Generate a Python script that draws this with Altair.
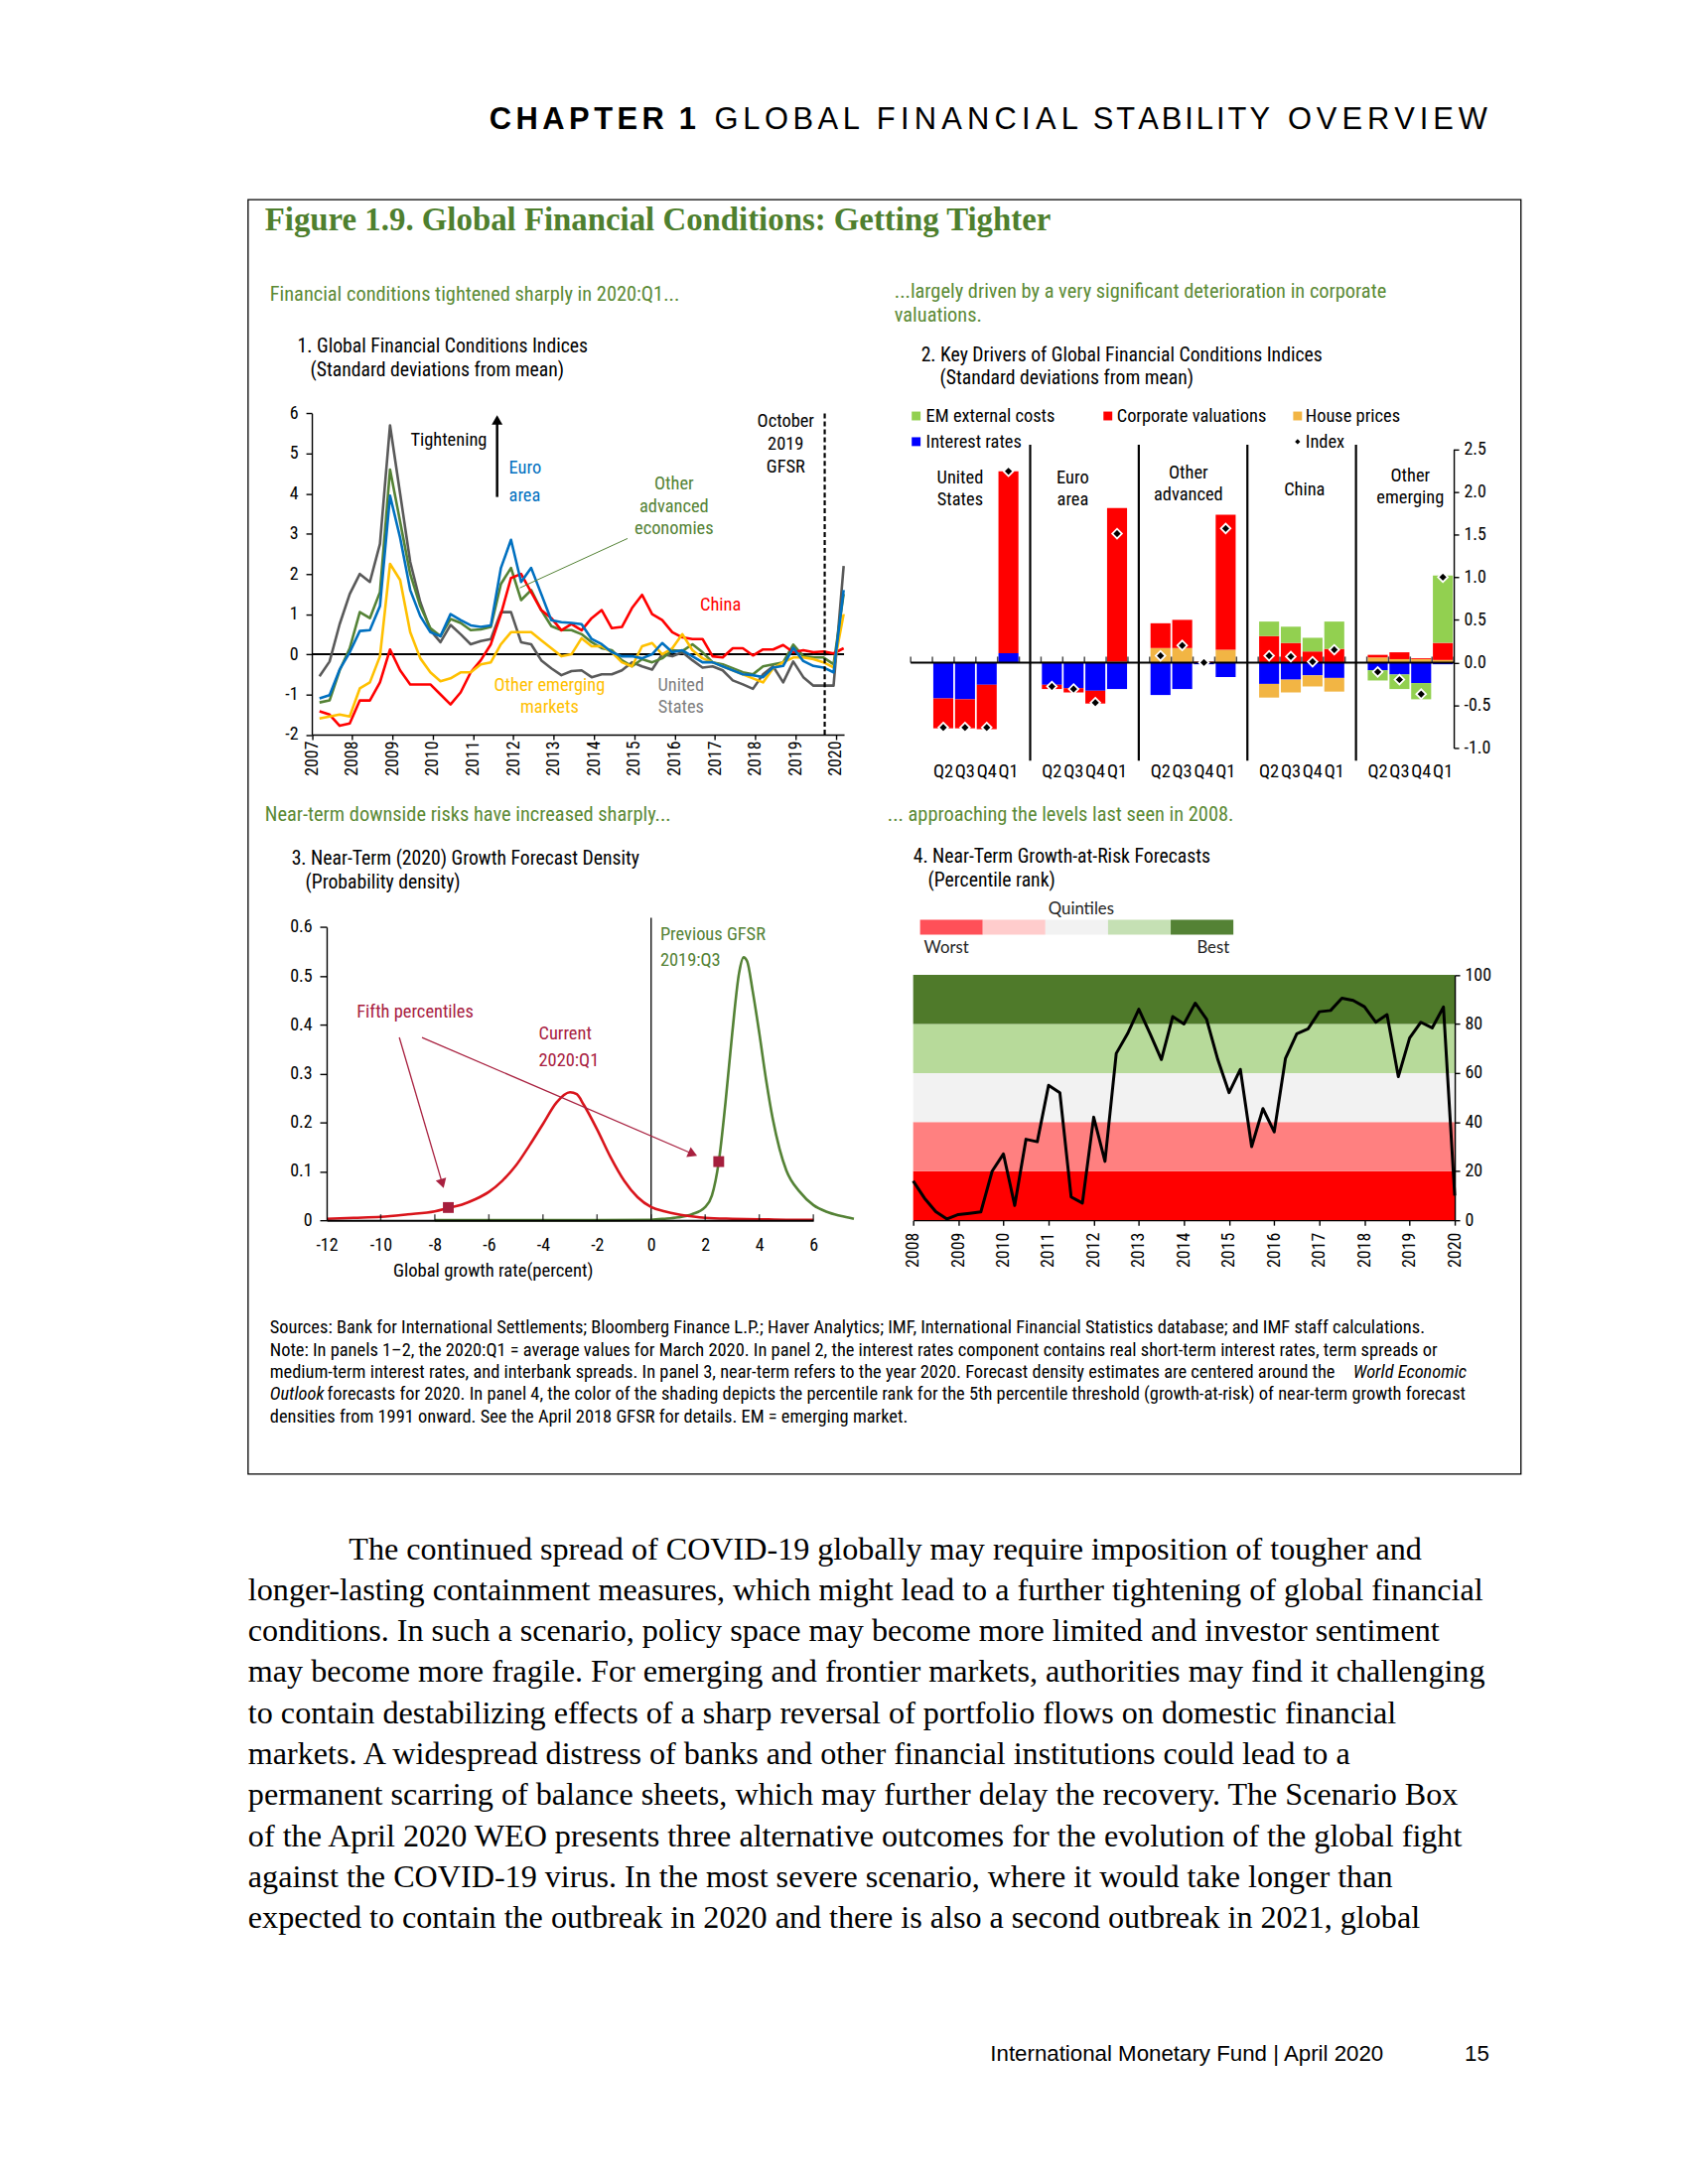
import altair as alt
import pandas as pd

# ======================= DATA =======================
# Panel 1: Global Financial Conditions Indices, quarterly 2007:Q1 - 2020:Q1
p1_start_year = 2007
p1_us = [-0.55, -0.18, 0.75, 1.5, 2.0, 1.8, 2.75, 5.7,
         4.0, 2.3, 1.3, 0.6,
         0.3, 0.73, 0.5, 0.25,
         0.33, 0.38, 1.05, 1.05,
         0.3, 0.25, -0.15, -0.35,
         -0.52, -0.42, -0.4, -0.57,
         -0.5, -0.5, -0.4, -0.2,
         -0.3, -0.38, 0.0, -0.05,
         0.05, -0.15, -0.33, -0.3,
         -0.4, -0.65, -0.75, -0.86,
         -0.5, -0.3, -0.7, -0.18,
         -0.57, -0.78, -0.78, -0.78,
         2.2]
p1_euro = [-1.1, -1.02, -0.38, 0.05, 0.58, 0.6, 1.2, 3.95,
           2.9, 1.6, 0.95, 0.55,
           0.45, 1.0, 0.85, 0.72,
           0.68, 0.72, 2.15, 2.85,
           1.8, 2.15, 1.5, 0.85,
           0.8, 0.78, 0.75, 0.38,
           0.25, 0.05, -0.05, -0.05,
           -0.1, 0.0, 0.28, 0.05,
           0.1, -0.05, -0.2, -0.2,
           -0.3, -0.4, -0.5, -0.52,
           -0.57, -0.33, -0.29, 0.16,
           -0.17, -0.29, -0.33, -0.45,
           1.6]
p1_other_adv = [-1.2, -1.15, -0.4, 0.15, 1.05, 0.9, 1.55, 4.6,
                3.3, 2.0, 1.2, 0.65,
                0.45, 0.88, 0.78, 0.6,
                0.62, 0.68, 1.75, 2.15,
                1.35, 1.6, 1.1, 0.7,
                0.6, 0.6, 0.5, 0.3,
                0.15, 0.1, -0.15, -0.3,
                -0.12, -0.2, -0.1, 0.1,
                0.08, 0.25, 0.05, -0.2,
                -0.25, -0.35, -0.45, -0.5,
                -0.3, -0.25, -0.2, 0.24,
                -0.05, -0.08, -0.08, -0.25,
                1.5]
p1_china = [-1.42, -1.5, -1.78, -1.72, -1.15, -1.15, -0.7, 0.12,
            -0.4, -0.75, -0.75, -0.75,
            -1.0, -1.25, -0.95, -0.45,
            -0.15, 0.25, 1.0, 1.9,
            2.0, 1.55, 1.1, 0.9,
            0.6, 0.75, 0.6, 0.9,
            1.1, 0.65, 0.68, 1.15,
            1.48, 1.0, 0.85, 0.55,
            0.42, 0.38, 0.38, -0.05,
            -0.08, 0.15, 0.15, -0.03,
            0.12, 0.12, 0.23, 0.05,
            0.1, 0.05, 0.07, 0.02,
            0.15]
p1_other_em = [-1.6, -1.55, -1.5, -1.55, -0.85, -0.7, -0.05, 2.25,
               1.85, 0.55, -0.1, -0.45,
               -0.67, -0.6, -0.45, -0.45,
               -0.25, -0.2, 0.25, 0.55,
               0.55, 0.55, 0.35, 0.15,
               -0.05, 0.0, 0.4, 0.2,
               0.2, 0.05, -0.2, -0.3,
               0.2, 0.28, 0.0, 0.15,
               0.5, 0.1, -0.1, -0.2,
               -0.3, -0.4, -0.5, -0.6,
               -0.7, -0.35, -0.2, -0.08,
               -0.08, -0.12, -0.2, -0.33,
               1.0]
p1_x_domain = [2007, 2020.2]
p1_y_domain = [-2, 6]
p1_year_ticks = list(range(2007, 2021))
p1_y_ticks = list(range(-2, 7))
p1_gfsr_oct2019 = 2019.72

# Panel 2: key drivers (2019:Q2, Q3, Q4, 2020:Q1 for each region)
p2_regions = ["United States", "Euro area", "Other advanced", "China", "Other emerging"]
p2_quarters = ["Q2", "Q3", "Q4", "Q1"]
p2_components = ["Interest rates", "House prices", "Corporate valuations", "EM external costs"]
p2_interest = [-0.42, -0.43, -0.26, 0.11, -0.26, -0.30, -0.33, -0.31, -0.38, -0.31, -0.02, -0.17,
               -0.25, -0.20, -0.15, -0.18, -0.09, -0.14, -0.24, -0.02]
p2_house = [0.00, 0.00, 0.00, 0.00, 0.01, 0.01, 0.01, 0.01, 0.17, 0.17, 0.00, 0.15,
            -0.16, -0.15, -0.13, -0.16, 0.06, 0.04, 0.04, 0.03]
p2_corp = [-0.35, -0.34, -0.52, 2.13, -0.05, -0.05, -0.15, 1.80, 0.29, 0.33, 0.01, 1.58,
           0.31, 0.23, 0.13, 0.16, 0.03, 0.08, 0.01, 0.20]
p2_em = [0, 0, 0, 0, 0, 0, 0, 0, 0, 0, 0, 0,
         0.17, 0.19, 0.16, 0.32, -0.12, -0.17, -0.19, 0.79]
p2_index = [-0.76, -0.76, -0.76, 2.24, -0.28, -0.31, -0.47, 1.51, 0.08, 0.20, 0.00, 1.57,
            0.08, 0.07, 0.01, 0.15, -0.11, -0.20, -0.37, 1.00]
p2_y_domain = [-1, 2.5]
p2_y_ticks = [-1.0, -0.5, 0.0, 0.5, 1.0, 1.5, 2.0, 2.5]

# Panel 3: growth forecast densities
p3_cur_x = [-12, -11, -10, -9, -8, -7.5, -7, -6.5, -6, -5.5, -5, -4.5, -4, -3.5, -3, -2.75, -2.5,
            -2, -1.5, -1, -0.5, 0, 0.5, 1, 1.5, 2, 3, 4, 5, 6]
p3_cur_y = [0.003, 0.005, 0.007, 0.012, 0.018, 0.025, 0.032, 0.043, 0.058, 0.081, 0.112, 0.153,
            0.197, 0.241, 0.262, 0.258, 0.237, 0.186, 0.129, 0.081, 0.047, 0.027, 0.018, 0.012,
            0.008, 0.005, 0.003, 0.002, 0.001, 0.001]
p3_prev_x = [-8, -6, -4, -2, 0, 0.5, 1, 1.5, 2, 2.25, 2.5, 2.75, 3, 3.25, 3.42, 3.55, 3.75, 4,
             4.25, 4.5, 4.75, 5, 5.5, 6, 6.5, 7, 7.5]
p3_prev_y = [0, 0, 0, 0, 0.001, 0.003, 0.006, 0.012, 0.027, 0.051, 0.119, 0.241, 0.383, 0.505,
             0.538, 0.530, 0.471, 0.383, 0.288, 0.207, 0.146, 0.102, 0.058, 0.031, 0.017, 0.009,
             0.003]
p3_p5_x = [-7.5, 2.5]
p3_p5_y = [0.026, 0.12]
p3_x_domain = [-12, 6]
p3_y_domain = [0, 0.6]
p3_x_ticks = list(range(-12, 7, 2))
p3_y_ticks = [0, 0.1, 0.2, 0.3, 0.4, 0.5, 0.6]

# Panel 4: growth-at-risk percentile rank, quarterly 2008:Q1 - 2020:Q1
p4_start_year = 2008
p4_rank = [16, 9, 3.5, 0.5, 2.3, 2.8, 3.4, 20, 27, 6, 33, 32, 55, 52, 9.5, 7, 42, 24, 68, 76,
           86, 76, 65.5, 83, 80, 88.5, 82, 65.5, 52, 61.5, 30, 45.5, 36, 66, 76, 78, 85, 85.5,
           90.5, 89.6, 87, 80.7, 83.8, 58.5, 74.3, 80.7, 78.4, 86.9, 10]
p4_quintile_lo = [0, 20, 40, 60, 80]
p4_quintile_hi = [20, 40, 60, 80, 100]
p4_quintile_names = ["1st", "2nd", "3rd", "4th", "5th"]
p4_x_domain = [2008, 2020]
p4_year_ticks = list(range(2008, 2021))
p4_y_ticks = [0, 20, 40, 60, 80, 100]

# ======================= STYLE / LAYOUT =======================
W, H = 1692, 2092
OX, OY = 8, 8
NARROW = "Liberation Sans Narrow, Arial Narrow, Roboto Condensed, DejaVu Sans Condensed, Liberation Sans, sans-serif"
SANS = "Liberation Sans, Arial, Helvetica, sans-serif"
SERIF = "Liberation Serif, Times New Roman, serif"
CAL = "Lato, Open Sans, sans-serif"
GREEN_TXT = "#5B8A35"
C_US, C_EA, C_OA, C_CN, C_EM = "#595959", "#0070C0", "#548235", "#FF0000", "#FFC000"
P2_COLORS = ["#0000FF", "#F2B544", "#FF0000", "#92D050"]
CRIMSON = "#A8203F"
BAND_COLORS = ["#FF0000", "#FF8080", "#F2F2F2", "#B7DA9A", "#4F7A2A"]
QLEG_COLORS = ["#FF5058", "#FFCCCC", "#F2F2F2", "#C5E0B4", "#548235"]
FS_SUB, FS_TTL, FS_ANN, FS_AX = 20.5, 19.8, 18.5, 18


def vx(x):
    return x - OX


def vy(y):
    return y - OY


ONE = pd.DataFrame({"_": [0]})


def T(s, x, y, size=16, color="black", font=NARROW, align="left", weight="normal",
      style="normal", baseline="middle"):
    return alt.Chart(ONE).mark_text(text=s, fontSize=size, color=color, font=font, align=align,
                                    fontWeight=weight, fontStyle=style, baseline=baseline).encode(
        x=alt.value(vx(x)), y=alt.value(vy(y)))


def R(x1, y1, x2, y2, color="black", width=1.0):
    return alt.Chart(ONE).mark_rule(color=color, strokeWidth=width).encode(
        x=alt.value(vx(x1)), y=alt.value(vy(y1)), x2=alt.value(vx(x2)), y2=alt.value(vy(y2)))


def HEAD(x, y, angle, color, size=130):
    return alt.Chart(ONE).mark_point(shape="triangle-up", filled=True, color=color, size=size,
                                     angle=angle, opacity=1).encode(
        x=alt.value(vx(x)), y=alt.value(vy(y)))


def hyphen_expr(fmt):
    return "replace(format(datum.value, '" + fmt + "'), '\u2212', '-')"


layers = []

# ---------------- page header (letter-spaced), frame, texts ----------------
CAPW = {"A": .667, "B": .667, "C": .722, "E": .667, "F": .611, "G": .778, "H": .722, "I": .278,
        "L": .556, "N": .722, "O": .778, "P": .667, "R": .722, "S": .667, "T": .611, "V": .667,
        "W": .944, "Y": .667, "1": .556}
CAPW_BOLD = dict(CAPW, A=.722)
HDR_FS = 31
for word, x0, x1, bold in [("CHAPTER", 495, 672, True), ("1", 687, 705, True), ("GLOBAL", 723, 870, False),
                           ("FINANCIAL", 887, 1091, False), ("STABILITY", 1106, 1285, False),
                           ("OVERVIEW", 1303, 1505, False)]:
    wt = CAPW_BOLD if bold else CAPW
    natural = sum(wt[c] for c in word) * HDR_FS
    sp = (x1 - x0 - natural) / (len(word) - 1) if len(word) > 1 else 0
    cx = x0
    for c in word:
        layers.append(T(c, cx, 117, size=HDR_FS, font=SANS, weight="bold" if bold else "normal"))
        cx += wt[c] * HDR_FS + sp

layers.append(alt.Chart(ONE).mark_rect(filled=False, color="black", strokeWidth=1.3).encode(
    x=alt.value(vx(251)), y=alt.value(vy(197)), x2=alt.value(vx(1539)), y2=alt.value(vy(1487))))
layers.append(T("Figure 1.9. Global Financial Conditions: Getting Tighter", 268, 218, size=33,
                color="#4E7F2E", font=SERIF, weight="bold"))

FS_NOTE = 18.5
notes = [
    (273, 1338, "Sources: Bank for International Settlements; Bloomberg Finance L.P.; Haver Analytics; IMF, International Financial Statistics database; and IMF staff calculations.", "normal", "left"),
    (273, 1361, "Note: In panels 1\u20132, the 2020:Q1 = average values for March 2020. In panel 2, the interest rates component contains real short-term interest rates, term spreads or", "normal", "left"),
    (273, 1384, "medium-term interest rates, and interbank spreads. In panel 3, near-term refers to the year 2020. Forecast density estimates are centered around the", "normal", "left"),
    (1484, 1384, "World Economic", "italic", "right"),
    (273, 1406, "Outlook", "italic", "left"),
    (331, 1406, "forecasts for 2020. In panel 4, the color of the shading depicts the percentile rank for the 5th percentile threshold (growth-at-risk) of near-term growth forecast", "normal", "left"),
    (273, 1429, "densities from 1991 onward. See the April 2018 GFSR for details. EM = emerging market.", "normal", "left"),
]
for x, y, s, st, al in notes:
    layers.append(T(s, x, y, size=FS_NOTE, style=st, align=al))

body = [
    "The continued spread of COVID-19 globally may require imposition of tougher and",
    "longer-lasting containment measures, which might lead to a further tightening of global financial",
    "conditions. In such a scenario, policy space may become more limited and investor sentiment",
    "may become more fragile. For emerging and frontier markets, authorities may find it challenging",
    "to contain destabilizing effects of a sharp reversal of portfolio flows on domestic financial",
    "markets. A widespread distress of banks and other financial institutions could lead to a",
    "permanent scarring of balance sheets, which may further delay the recovery. The Scenario Box",
    "of the April 2020 WEO presents three alternative outcomes for the evolution of the global fight",
    "against the COVID-19 virus. In the most severe scenario, where it would take longer than",
    "expected to contain the outbreak in 2020 and there is also a second outbreak in 2021, global",
]
for i, s in enumerate(body):
    layers.append(T(s, 353 if i == 0 else 251, 1563 + 41.5 * i, size=32.3, font=SERIF))

layers.append(T("International Monetary Fund | April 2020", 1002, 2074, size=22.4, font=SANS))
layers.append(T("15", 1507, 2074, size=22.4, font=SANS, align="right"))

# panel headings
layers += [
    T("Financial conditions tightened sharply in 2020:Q1...", 273, 293, size=FS_SUB, color=GREEN_TXT),
    T("1. Global Financial Conditions Indices", 301, 346, size=FS_TTL),
    T("(Standard deviations from mean)", 314, 370, size=FS_TTL),
    T("...largely driven by a very significant deterioration in corporate", 905, 290, size=FS_SUB, color=GREEN_TXT),
    T("valuations.", 905, 315, size=FS_SUB, color=GREEN_TXT),
    T("2. Key Drivers of Global Financial Conditions Indices", 932, 355, size=FS_TTL),
    T("(Standard deviations from mean)", 951, 378, size=FS_TTL),
    T("Near-term downside risks have increased sharply...", 268, 820, size=FS_SUB, color=GREEN_TXT),
    T("3. Near-Term (2020) Growth Forecast Density", 295, 864, size=FS_TTL),
    T("(Probability density)", 309, 888, size=FS_TTL),
    T("... approaching the levels last seen in 2008.", 898, 820, size=FS_SUB, color=GREEN_TXT),
    T("4. Near-Term Growth-at-Risk Forecasts", 924, 862, size=FS_TTL),
    T("(Percentile rank)", 939, 886, size=FS_TTL),
]


def S(domain, r0, r1):
    return alt.Scale(domain=domain, range=[r0, r1], nice=False, zero=False)


# ======================= PANEL 1 =======================
p1_t = [p1_start_year + 0.19 + 0.25 * i for i in range(len(p1_us))]
P1_L, P1_PY = 315.5, 40.8
SX1 = S(p1_x_domain, vx(P1_L), vx(P1_L + (p1_x_domain[1] - p1_x_domain[0]) * P1_PY))
SY1 = S(p1_y_domain, vy(738.5), vy(413.3))
AX1X = alt.Axis(orient="bottom", offset=vy(738.5) - H, values=p1_year_ticks, format="d",
                labelAngle=270, tickSize=5, labelPadding=1, title=None, zindex=1, labelFontSize=FS_AX)
AX1Y = alt.Axis(orient="left", offset=-vx(P1_L), values=p1_y_ticks, labelExpr="'' + datum.value",
                tickSize=6, labelPadding=8, title=None, zindex=1, labelFontSize=FS_AX)

layers.append(alt.Chart(pd.DataFrame({"x": [p1_x_domain[0]], "x2": [p1_x_domain[1]], "y": [0]})).mark_rule(
    color="black", strokeWidth=2).encode(
    x=alt.X("x:Q", scale=SX1, axis=AX1X), x2="x2:Q", y=alt.Y("y:Q", scale=SY1, axis=AX1Y)))


def p1_line(vals, color):
    df = pd.DataFrame({"t": p1_t, "v": vals})
    return alt.Chart(df).mark_line(color=color, strokeWidth=2.6, strokeJoin="round").encode(
        x=alt.X("t:Q", scale=SX1, axis=None),
        y=alt.Y("v:Q", scale=SY1, axis=None))


layers += [p1_line(p1_us, C_US), p1_line(p1_other_adv, C_OA), p1_line(p1_china, C_CN),
           p1_line(p1_other_em, C_EM), p1_line(p1_euro, C_EA)]
layers.append(alt.Chart(pd.DataFrame({"x": [p1_gfsr_oct2019], "y": [p1_y_domain[0]], "y2": [p1_y_domain[1]]})).mark_rule(
    color="black", strokeWidth=2.2, strokeDash=[5, 3]).encode(
    x=alt.X("x:Q", scale=SX1, axis=None), y=alt.Y("y:Q", scale=SY1, axis=None), y2="y2:Q"))

layers += [
    T("Tightening", 454, 440, size=FS_ANN, align="center"),
    R(503, 498, 503, 424, width=2.5),
    HEAD(503, 420, 0, "black", size=120),
    T("Euro", 515, 468, size=FS_ANN, color=C_EA),
    T("area", 515, 496, size=FS_ANN, color=C_EA),
    T("Other", 682, 484, size=FS_ANN, color=C_OA, align="center"),
    T("advanced", 682, 507, size=FS_ANN, color=C_OA, align="center"),
    T("economies", 682, 530, size=FS_ANN, color=C_OA, align="center"),
    R(635, 540, 526, 590, color=C_OA, width=1),
    T("China", 729, 607, size=FS_ANN, color=C_CN, align="center"),
    T("Other emerging", 556, 688, size=FS_ANN, color=C_EM, align="center"),
    T("markets", 556, 710, size=FS_ANN, color=C_EM, align="center"),
    T("United", 689, 688, size=FS_ANN, color="#7F7F7F", align="center"),
    T("States", 689, 710, size=FS_ANN, color="#7F7F7F", align="center"),
    T("October", 795, 421, size=FS_ANN, align="center"),
    T("2019", 795, 444, size=FS_ANN, align="center"),
    T("GFSR", 795, 467, size=FS_ANN, align="center"),
]

# ======================= PANEL 2 =======================
rows, idx_rows, q_rows = [], [], []
for gi, g in enumerate(p2_regions):
    for qi, q in enumerate(p2_quarters):
        k = gi * 4 + qi
        slot = 5 * gi + 1 + qi
        for ci, (comp, arr) in enumerate(zip(p2_components, [p2_interest, p2_house, p2_corp, p2_em])):
            rows.append({"slot": slot, "x0": slot + 0.04, "x1": slot + 0.96, "comp": comp,
                         "ord": ci, "val": arr[k]})
        idx_rows.append({"xc": slot + 0.5, "v": p2_index[k]})
        q_rows.append({"xc": slot + 0.5, "q": q})
n_slots = 5 * len(p2_regions)
p2_df = pd.DataFrame(rows)
p2_idx_df = pd.DataFrame(idx_rows)
p2_q_df = pd.DataFrame(q_rows)
p2_sep_df = pd.DataFrame({"xs": [5 * g + 0.5 for g in range(1, len(p2_regions))]})
p2_bnd_df = pd.DataFrame({"xb": list(range(0, n_slots + 1)), "y": [0] * (n_slots + 1)})

P2_L, P2_R = 921.5, 1471
SX2 = S([0, n_slots], vx(P2_L), vx(P2_R))
SY2 = S(p2_y_domain, vy(752), vy(449.5))
AX2Y = alt.Axis(orient="right", offset=vx(P2_R) - W, values=p2_y_ticks, labelExpr=hyphen_expr(".1f"),
                tickSize=5, labelPadding=5, title=None, zindex=1, labelFontSize=FS_AX)

layers.append(alt.Chart(p2_df).transform_stack(
    stack="val", groupby=["slot"], as_=["v0", "v1"],
    sort=[alt.SortField("ord", order="ascending")], offset="zero"
).mark_rect().encode(
    x=alt.X("x0:Q", scale=SX2, axis=None), x2="x1:Q",
    y=alt.Y("v0:Q", scale=SY2, axis=AX2Y), y2="v1:Q",
    color=alt.Color("comp:N", scale=alt.Scale(domain=p2_components, range=P2_COLORS), legend=None)))
layers.append(alt.Chart(pd.DataFrame({"x": [0], "x2": [n_slots], "y": [0]})).mark_rule(
    color="black", strokeWidth=2).encode(
    x=alt.X("x:Q", scale=SX2, axis=None), x2="x2:Q", y=alt.Y("y:Q", scale=SY2, axis=None)))
layers.append(alt.Chart(p2_bnd_df).mark_tick(orient="vertical", size=6, thickness=1.5, color="black",
                                             yOffset=-3).encode(
    x=alt.X("xb:Q", scale=SX2, axis=None), y=alt.Y("y:Q", scale=SY2, axis=None)))
layers.append(alt.Chart(p2_sep_df).mark_rule(color="black", strokeWidth=2.2).encode(
    x=alt.X("xs:Q", scale=SX2, axis=None), y=alt.value(vy(445)), y2=alt.value(vy(765))))
layers.append(alt.Chart(p2_idx_df).mark_point(shape="diamond", filled=True, color="black", stroke="white",
                                              strokeWidth=1.8, size=95, opacity=1).encode(
    x=alt.X("xc:Q", scale=SX2, axis=None), y=alt.Y("v:Q", scale=SY2, axis=None)))
layers.append(alt.Chart(p2_q_df).mark_text(fontSize=FS_ANN, font=NARROW, color="black", baseline="middle").encode(
    x=alt.X("xc:Q", scale=SX2, axis=None), y=alt.value(vy(776)), text="q:N"))

layers += [
    T("United", 971.5, 478, size=FS_ANN, align="center"), T("States", 971.5, 500, size=FS_ANN, align="center"),
    T("Euro", 1085.5, 478, size=FS_ANN, align="center"), T("area", 1085.5, 500, size=FS_ANN, align="center"),
    T("Other", 1202.5, 473, size=FS_ANN, align="center"), T("advanced", 1202.5, 495, size=FS_ANN, align="center"),
    T("China", 1320, 490, size=FS_ANN, align="center"),
    T("Other", 1427, 476, size=FS_ANN, align="center"), T("emerging", 1427, 498, size=FS_ANN, align="center"),
]


def LSQ(x, y, color):
    return alt.Chart(ONE).mark_square(color=color, size=80, opacity=1).encode(
        x=alt.value(vx(x)), y=alt.value(vy(y)))


layers += [
    LSQ(927, 416, P2_COLORS[3]), T("EM external costs", 937, 416, size=FS_ANN),
    LSQ(1121, 416, P2_COLORS[2]), T("Corporate valuations", 1130, 416, size=FS_ANN),
    LSQ(1313, 416, P2_COLORS[1]), T("House prices", 1321, 416, size=FS_ANN),
    LSQ(927, 442, P2_COLORS[0]), T("Interest rates", 937, 442, size=FS_ANN),
    alt.Chart(ONE).mark_point(shape="diamond", filled=True, color="black", size=28, opacity=1).encode(
        x=alt.value(vx(1313)), y=alt.value(vy(442))),
    T("Index", 1321, 442, size=FS_ANN),
]

# ======================= PANEL 3 =======================
P3_L, P3_R = 330.5, 823
SX3 = S(p3_x_domain, vx(P3_L), vx(P3_R))
SY3 = S(p3_y_domain, vy(1230), vy(933.3))
AX3X = alt.Axis(orient="bottom", offset=vy(1230) - H, values=p3_x_ticks, labelExpr="'' + datum.value",
                labelAngle=0, tickSize=0, labelPadding=16, title=None, zindex=1, domainWidth=2,
                labelFontSize=FS_AX)
AX3Y = alt.Axis(orient="left", offset=-vx(P3_L), values=p3_y_ticks,
                labelExpr="datum.value == 0 ? '0' : format(datum.value, '.1f')",
                tickSize=7, labelPadding=8, title=None, zindex=1, labelFontSize=FS_AX)
layers.append(alt.Chart(pd.DataFrame({"x": [0], "y": [0]})).mark_rule(color="black", strokeWidth=1.3).encode(
    x=alt.X("x:Q", scale=SX3, axis=None), y=alt.Y("y:Q", scale=SY3, axis=None), y2=alt.value(vy(924))))
layers.append(alt.Chart(pd.DataFrame({"x": p3_prev_x, "y": p3_prev_y})).mark_line(
    color="#548235", strokeWidth=2.6, interpolate="monotone").encode(
    x=alt.X("x:Q", scale=SX3, axis=None), y=alt.Y("y:Q", scale=SY3, axis=None)))
layers.append(alt.Chart(pd.DataFrame({"x": p3_cur_x, "y": p3_cur_y})).mark_line(
    color="#D9141B", strokeWidth=2.6, interpolate="monotone").encode(
    x=alt.X("x:Q", scale=SX3, axis=AX3X), y=alt.Y("y:Q", scale=SY3, axis=AX3Y)))
layers.append(alt.Chart(pd.DataFrame({"tx": p3_x_ticks[1:], "y": [0] * (len(p3_x_ticks) - 1)})).mark_tick(
    orient="vertical", size=6, thickness=1.5, color="black", yOffset=-3).encode(
    x=alt.X("tx:Q", scale=SX3, axis=None), y=alt.Y("y:Q", scale=SY3, axis=None)))
layers.append(alt.Chart(pd.DataFrame({"x": p3_p5_x, "y": p3_p5_y})).mark_square(
    color="#A51F3D", size=120, opacity=1).encode(
    x=alt.X("x:Q", scale=SX3, axis=None), y=alt.Y("y:Q", scale=SY3, axis=None)))

layers += [
    T("Global growth rate(percent)", 499, 1281, size=18.7, align="center"),
    T("Fifth percentiles", 420, 1019, size=FS_ANN, color=CRIMSON, align="center"),
    T("Current", 545, 1041, size=FS_ANN, color=CRIMSON),
    T("2020:Q1", 545, 1068, size=FS_ANN, color=CRIMSON),
    T("Previous GFSR", 668, 940, size=FS_ANN, color="#548235"),
    T("2019:Q3", 668, 967, size=FS_ANN, color="#548235"),
    R(404, 1045, 447, 1191, color=CRIMSON, width=1.3),
    HEAD(447.5, 1193, 163.6, CRIMSON, size=120),
    R(427, 1045, 699, 1162, color=CRIMSON, width=1.3),
    HEAD(701, 1163, 113.5, CRIMSON, size=120),
]

# ======================= PANEL 4 =======================
p4_t = [p4_start_year + 0.25 * k for k in range(len(p4_rank))]
P4_L, P4_R = 924, 1472
SX4 = S(p4_x_domain, vx(P4_L), vx(P4_R))
SY4 = S([0, 100], vy(1230), vy(981.7))
AX4X = alt.Axis(orient="bottom", offset=vy(1230) - H, values=p4_year_ticks, format="d",
                labelAngle=270, tickSize=5, labelPadding=7, title=None, zindex=1, labelFontSize=FS_AX)
AX4Y = alt.Axis(orient="right", offset=vx(P4_R) - W, values=p4_y_ticks, format="d",
                tickSize=5, labelPadding=5, title=None, zindex=1, labelFontSize=FS_AX)
band_df = pd.DataFrame({"lo": p4_quintile_lo, "hi": p4_quintile_hi, "k": p4_quintile_names,
                        "x": [p4_x_domain[0]] * 5, "x2": [p4_x_domain[1]] * 5})
layers.append(alt.Chart(band_df).mark_rect().encode(
    x=alt.X("x:Q", scale=SX4, axis=None), x2="x2:Q",
    y=alt.Y("lo:Q", scale=SY4, axis=None), y2="hi:Q",
    color=alt.Color("k:N", scale=alt.Scale(domain=p4_quintile_names, range=BAND_COLORS), legend=None)))
layers.append(alt.Chart(pd.DataFrame({"t": p4_t, "v": p4_rank})).mark_line(
    color="black", strokeWidth=3, strokeJoin="round").encode(
    x=alt.X("t:Q", scale=SX4, axis=AX4X), y=alt.Y("v:Q", scale=SY4, axis=AX4Y)))

qleg_df = pd.DataFrame({"i": [0, 1, 2, 3, 4], "i2": [1, 2, 3, 4, 5], "k": p4_quintile_names})
layers += [
    alt.Chart(qleg_df).mark_rect().encode(
        x=alt.X("i:Q", scale=S([0, 5], vx(931), vx(1248)), axis=None), x2="i2:Q",
        y=alt.value(vy(926)), y2=alt.value(vy(941)),
        color=alt.Color("k:N", scale=alt.Scale(domain=p4_quintile_names, range=QLEG_COLORS), legend=None)),
    T("Quintiles", 1094, 915, size=16.8, font=CAL, color="#222222", align="center"),
    T("Worst", 935, 955, size=16.8, font=CAL, color="#222222"),
    T("Best", 1244, 955, size=16.8, font=CAL, color="#222222", align="right"),
]

# ======================= ASSEMBLE =======================
chart = alt.layer(*layers).resolve_scale(
    x="independent", y="independent", color="independent"
).properties(
    width=W, height=H, padding=0, background="white",
    autosize=alt.AutoSizeParams(type="none")
).configure_view(
    stroke="transparent"
).configure_axis(
    labelFont=NARROW, labelColor="black", domainColor="black", tickColor="black",
    grid=False, labelFlush=False, labelOverlap=False, domainWidth=1.4, tickWidth=1.4
)

chart.save("out.html", embed_options={"renderer": "svg", "actions": False})
